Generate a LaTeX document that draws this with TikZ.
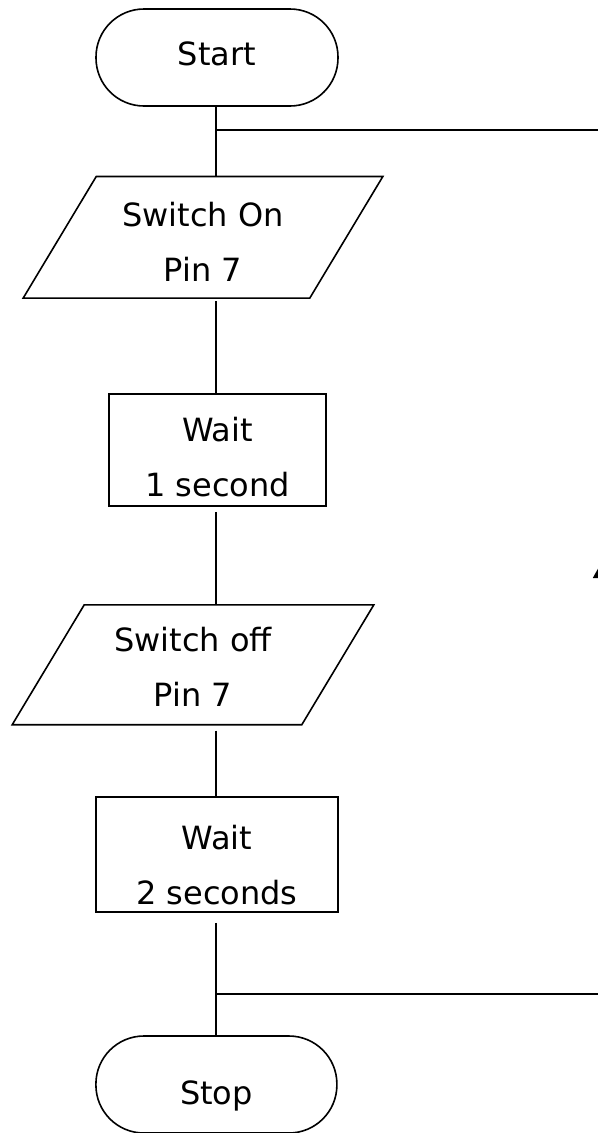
\documentclass[tikz,border=0pt]{standalone}
\usepackage{fontspec}
\setmainfont{DejaVu Sans}
\usetikzlibrary{arrows.meta}
\begin{document}
\begin{tikzpicture}[x=0.75pt,y=-0.75pt,
  shapebase/.style={line width=1.2pt, inner sep=0pt, text=black,
    font=\fontsize{24}{41.25}\selectfont},
  term/.style={shapebase, draw, rectangle, rounded corners=36pt,
    minimum width=181.5pt, minimum height=72.75pt},
  io/.style={shapebase, rectangle, align=center},
  iooutline/.style={line width=1.2pt, line join=miter},
  proc/.style={shapebase, draw, rectangle, align=center},
  conn/.style={line width=1.2pt}]
\useasboundingbox (0,0) rectangle (598,1133);

\node[term] (start) at (217,57.5) {Start\rule[-6.5pt]{0pt}{6.5pt}};
\node[io, minimum width=213.75pt, minimum height=90pt] (p1) at (203,237.3)
  {\rule{0pt}{24.6pt}Switch On\\Pin 7};
\draw[iooutline] ([xshift=27.4pt]p1.north west) -- ([xshift=27.4pt]p1.north east)
  -- ([xshift=-27.4pt]p1.south east) -- ([xshift=-27.4pt]p1.south west) -- cycle;
\node[proc, minimum width=162.75pt, minimum height=84pt] (b1) at (217.5,450)
  {\rule{0pt}{28.8pt}Wait\\1 second};
\node[io, minimum width=216pt, minimum height=88.7pt] (p2) at (193,664.8)
  {\rule{0pt}{21.8pt}Switch off\\Pin 7};
\draw[iooutline] ([xshift=27pt]p2.north west) -- ([xshift=27pt]p2.north east)
  -- ([xshift=-27pt]p2.south east) -- ([xshift=-27pt]p2.south west) -- cycle;
\node[proc, minimum width=181.5pt, minimum height=86.25pt] (b2) at (217,854.5)
  {\rule{0pt}{34.5pt}Wait\\2 seconds};
\node[term, minimum width=180.75pt] (stop) at (216.4,1084.5)
  {\rule{0pt}{34.3pt}Stop};

\coordinate (j1) at (216,130);
\coordinate (j2) at (216,994);
\coordinate (r1) at (600,130);
\coordinate (r2) at (600,994);
\coordinate (rm) at (600,565);

\draw[conn] (start.south -| j1) -- (p1.north -| j1);
\draw[conn] (j1) -- (r1);
\draw[conn, shorten <=2.25pt] (p1.south -| j1) -- (b1.north -| j1);
\draw[conn, shorten <=3.75pt] (b1.south -| j1) -- (p2.north -| j1);
\draw[conn, shorten <=4.5pt] (p2.south -| j1) -- (b2.north -| j1);
\draw[conn, shorten <=7.5pt] (b2.south -| j2) -- (stop.north -| j2);
\draw[conn] (j2) -- (r2);
\draw[conn, -{Triangle[width=10.5pt,length=9.75pt]}] (r2) -- (rm);
\draw[conn] (rm) -- (r1);
\end{tikzpicture}
\end{document}
